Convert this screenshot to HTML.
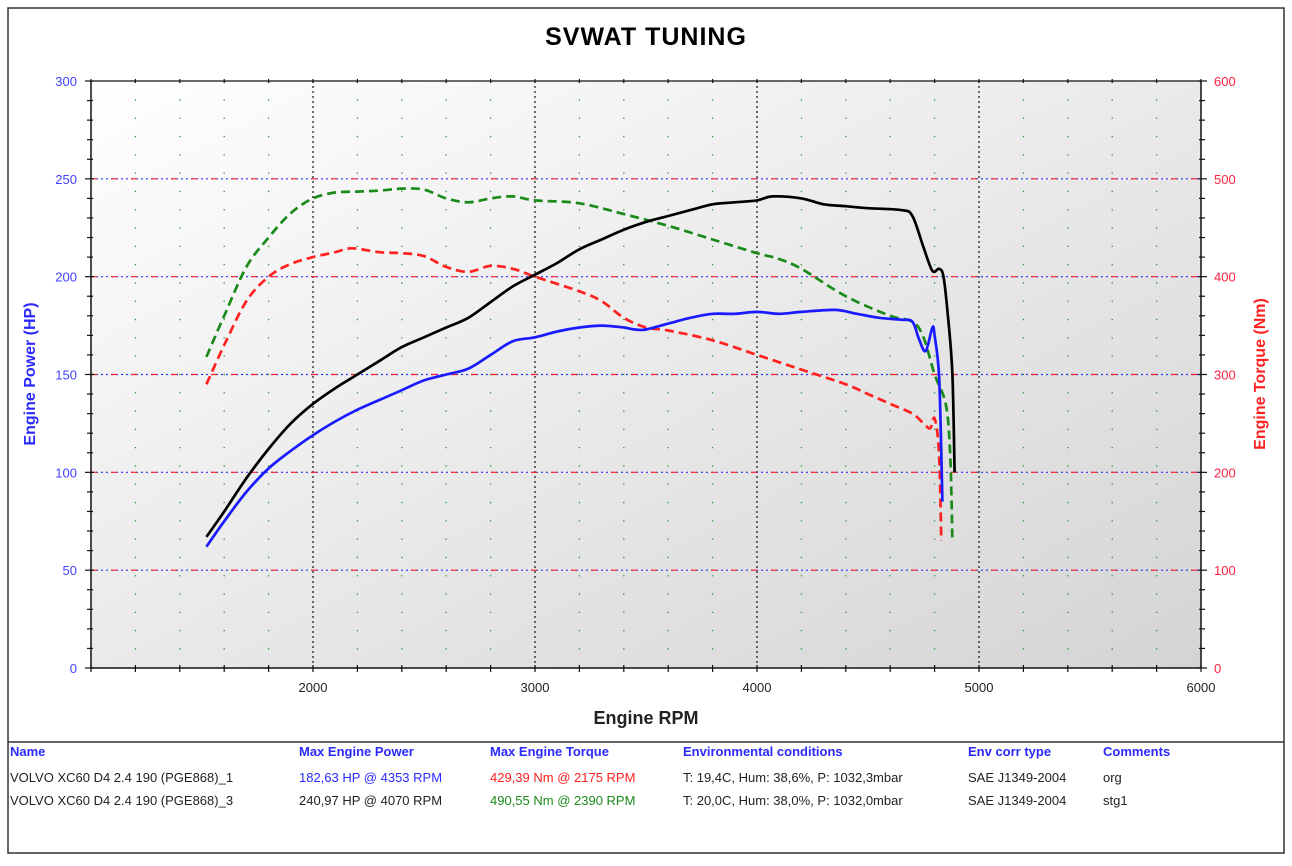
<!DOCTYPE html>
<html><head><meta charset="utf-8">
<style>
body{margin:0;background:#fff;width:1292px;height:861px;overflow:hidden;font-family:"Liberation Sans",Arial,sans-serif}
svg text{font-family:"Liberation Sans",Arial,sans-serif}
</style></head>
<body>
<svg id="chart" width="1292" height="861" xmlns="http://www.w3.org/2000/svg">
<defs>
<linearGradient id="bg" x1="0" y1="0" x2="1" y2="1">
<stop offset="0" stop-color="#ffffff"/><stop offset="1" stop-color="#d4d4d4"/>
</linearGradient>
</defs>
<rect x="8" y="8" width="1276" height="845" fill="#fff" stroke="#333" stroke-width="1.5"/>
<line x1="8" y1="742" x2="1284" y2="742" stroke="#333" stroke-width="1.5"/>
<text x="646" y="45" text-anchor="middle" font-size="25" font-weight="bold" font-family="Liberation Sans" letter-spacing="1">SVWAT TUNING</text>
<rect x="91" y="81" width="1110" height="587" fill="url(#bg)"/>
<g id="grid"></g>
<g id="axes"></g>
<g id="series"></g>
<text x="646" y="724" text-anchor="middle" font-size="18" font-weight="bold" fill="#222">Engine RPM</text>
<text transform="translate(35,374) rotate(-90)" text-anchor="middle" font-size="16" font-weight="bold" fill="#2a2aff">Engine Power (HP)</text>
<text transform="translate(1265,374) rotate(-90)" text-anchor="middle" font-size="16" font-weight="bold" fill="#ff2020">Engine Torque (Nm)</text>
<g font-size="13">
<g font-weight="bold" fill="#2a2aff">
<text x="10" y="756">Name</text>
<text x="299" y="756">Max Engine Power</text>
<text x="490" y="756">Max Engine Torque</text>
<text x="683" y="756">Environmental conditions</text>
<text x="968" y="756">Env corr type</text>
<text x="1103" y="756">Comments</text>
</g>
<g fill="#222">
<text x="10" y="782">VOLVO XC60 D4 2.4 190 (PGE868)_1</text>
<text x="299" y="782" fill="#2a2aff">182,63 HP @ 4353 RPM</text>
<text x="490" y="782" fill="#ff2020">429,39 Nm @ 2175 RPM</text>
<text x="683" y="782">T: 19,4C, Hum: 38,6%, P: 1032,3mbar</text>
<text x="968" y="782">SAE J1349-2004</text>
<text x="1103" y="782">org</text>
</g>
<g fill="#222">
<text x="10" y="805">VOLVO XC60 D4 2.4 190 (PGE868)_3</text>
<text x="299" y="805">240,97 HP @ 4070 RPM</text>
<text x="490" y="805" fill="#1a8a1a">490,55 Nm @ 2390 RPM</text>
<text x="683" y="805">T: 20,0C, Hum: 38,0%, P: 1032,0mbar</text>
<text x="968" y="805">SAE J1349-2004</text>
<text x="1103" y="805">stg1</text>
</g>
</g>
</svg>
<script>
const rpmTicks=[2000,3000,4000,5000,6000];
const hpTicks=[0,50,100,150,200,250,300];
const nmTicks=[0,100,200,300,400,500,600];
const blueRpm=[1520,1600,1700,1800,1900,2000,2100,2200,2300,2400,2500,2600,2700,2800,2900,3000,3100,3200,3300,3400,3450,3500,3600,3700,3800,3900,4000,4100,4200,4353,4450,4550,4650,4700,4730,4760,4790,4800,4820,4830,4835];
const blueHp=[62,75,90,102,111,119,126,132,137,142,147,150,153,160,167,169,172,174,175,174,173,173,176,179,181,181,182,181,182,183,181,179,178,177,168,162,174,170,150,110,85];
const blackRpm=[1520,1600,1700,1800,1900,2000,2100,2200,2300,2400,2500,2600,2700,2800,2900,3000,3100,3200,3300,3400,3500,3600,3700,3800,3900,4000,4070,4200,4300,4400,4500,4650,4700,4750,4790,4820,4840,4860,4880,4890];
const blackHp=[67,80,97,112,125,135,143,150,157,164,169,174,179,187,195,201,207,214,219,224,228,231,234,237,238,239,241,240,237,236,235,234,231,215,203,204,200,180,150,100];
const greenRpm=[1520,1600,1700,1800,1900,2000,2100,2200,2300,2400,2500,2600,2700,2800,2900,3000,3200,3400,3600,3800,4000,4100,4200,4400,4600,4700,4750,4800,4850,4870,4880];
const greenNm=[318,360,410,440,465,480,486,487,488,490,489,480,476,480,482,478,475,464,452,438,424,418,408,380,360,354,338,300,270,220,130];
const redRpm=[1520,1600,1700,1800,1900,2000,2100,2175,2300,2400,2500,2600,2700,2800,2900,3000,3200,3300,3400,3500,3600,3800,4000,4200,4400,4500,4600,4700,4750,4780,4800,4820,4830];
const redNm=[290,330,375,400,413,420,425,429,425,424,421,410,405,411,408,400,385,375,358,348,345,335,320,305,290,280,270,260,250,245,255,220,130];

const L=91,R=1201,T=81,B=668;
const xs=r=>L+(r-1000)/5000*(R-L);
const yh=v=>B-v/300*(B-T);
const yn=v=>B-v/600*(B-T);
const NS='http://www.w3.org/2000/svg';
function mk(tag,attrs,parent){const e=document.createElementNS(NS,tag);for(const k in attrs)e.setAttribute(k,attrs[k]);parent.appendChild(e);return e;}
const grid=document.getElementById('grid'),axes=document.getElementById('axes'),ser=document.getElementById('series');
for(let r=1200;r<6000;r+=200){if(r%1000===0)continue;
 const l=mk('line',{x1:xs(r),x2:xs(r),y1:T,y2:B,stroke:'#2a9a2a','stroke-width':1.3,'stroke-dasharray':'1.3,17'},grid);
 
 }
rpmTicks.forEach(r=>{if(r>=6000)return;
 const l=mk('line',{x1:xs(r),x2:xs(r),y1:T,y2:B,stroke:'#111','stroke-width':1.2,'stroke-dasharray':'2,3'},grid);
 
 });
hpTicks.forEach(v=>{if(v===0||v===300)return;
 const y=yh(v);
 const l1=mk('line',{x1:L,x2:R,y1:y,y2:y,stroke:'#3030ff','stroke-width':1.2,'stroke-dasharray':'2,3'},grid);
 
 
 mk('line',{x1:L,x2:R,y1:y,y2:y,stroke:'#ff2020','stroke-width':1.2,'stroke-dasharray':'6,14'},grid);});
mk('line',{x1:L,x2:R,y1:T,y2:T,stroke:'#111','stroke-width':1.2},axes);
mk('line',{x1:L,x2:R,y1:B,y2:B,stroke:'#111','stroke-width':1.5},axes);
mk('line',{x1:L,x2:L,y1:T,y2:B,stroke:'#111','stroke-width':1.5},axes);
mk('line',{x1:R,x2:R,y1:T,y2:B,stroke:'#111','stroke-width':1.5},axes);
for(let v=0;v<=300;v+=10){const y=yh(v);const w=v%50===0?6:4;
 mk('line',{x1:L-w,x2:L+w*0.5,y1:y,y2:y,stroke:'#111','stroke-width':1.2},axes);
 mk('line',{x1:R-w*0.5,x2:R+w,y1:y,y2:y,stroke:'#111','stroke-width':1.2},axes);}
for(let r=1000;r<=6000;r+=200){mk('line',{x1:xs(r),x2:xs(r),y1:B-3,y2:B+4,stroke:'#111','stroke-width':1.2},axes);
 mk('line',{x1:xs(r),x2:xs(r),y1:T-2,y2:T+2,stroke:'#111','stroke-width':1.2},axes);}
hpTicks.forEach(v=>{const t=mk('text',{x:L-14,y:yh(v)+5,'text-anchor':'end','font-size':13,fill:'#4040ff'},axes);t.textContent=v;
 
 });
nmTicks.forEach(v=>{const t=mk('text',{x:R+13,y:yn(v)+5,'text-anchor':'start','font-size':13,fill:'#ff2040'},axes);t.textContent=v;
 
 });
rpmTicks.forEach(r=>{const t=mk('text',{x:xs(r),y:B+24,'text-anchor':'middle','font-size':13,fill:'#222'},axes);t.textContent=r;
 
 });
function line(xa,ya,yf,color,dash,name){
 const P=xa.map((r,i)=>[xs(r),yf(ya[i])]);
 let d='M'+P[0][0].toFixed(1)+','+P[0][1].toFixed(1);
 for(let i=0;i<P.length-1;i++){
  const p0=P[Math.max(0,i-1)],p1=P[i],p2=P[i+1],p3=P[Math.min(P.length-1,i+2)];
  const c1=[p1[0]+(p2[0]-p0[0])/6,p1[1]+(p2[1]-p0[1])/6];
  const c2=[p2[0]-(p3[0]-p1[0])/6,p2[1]-(p3[1]-p1[1])/6];
  d+=' C'+c1[0].toFixed(1)+','+c1[1].toFixed(1)+' '+c2[0].toFixed(1)+','+c2[1].toFixed(1)+' '+p2[0].toFixed(1)+','+p2[1].toFixed(1);
 }
 const p=mk('path',{d:d,fill:'none',stroke:color,'stroke-width':2.7,'stroke-linejoin':'round'},ser);
 if(dash)p.setAttribute('stroke-dasharray',dash);
 
 }
line(greenRpm,greenNm,yn,'#1a8a1a','9,5','torque-stg1-line');
line(redRpm,redNm,yn,'#ff2020','9,5','torque-org-line');
line(blueRpm,blueHp,yh,'#1a1aff',null,'power-org-line');
line(blackRpm,blackHp,yh,'#000',null,'power-stg1-line');
</script>
</body></html>
